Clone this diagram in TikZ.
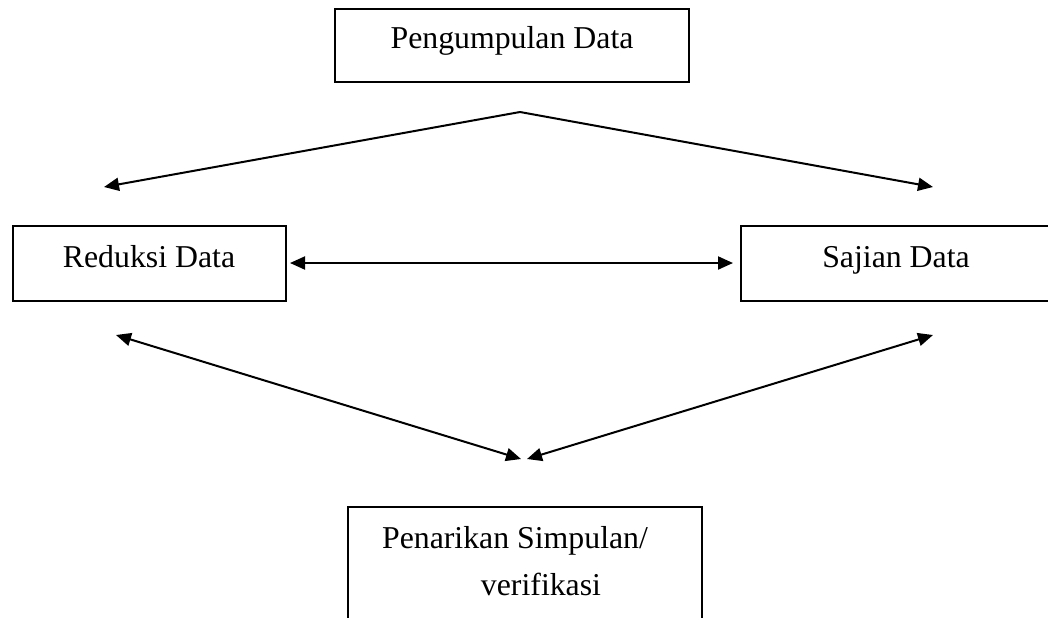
\documentclass[tikz,border=0pt]{standalone}
\usepackage{fontspec}
\setmainfont{Liberation Serif}
\usetikzlibrary{arrows.meta}
\begin{document}
\begin{tikzpicture}[x=0.5pt,y=-0.5pt,
  box/.style={draw=black, line width=0.8pt},
  lbl/.style={anchor=base, inner sep=0pt, font=\fontsize{15.9}{19}\selectfont},
  conn/.style={line width=1pt, -{Triangle[length=7.5pt,width=6.5pt]}},
  dconn/.style={line width=1pt, {Triangle[length=7.5pt,width=6.5pt]}-{Triangle[length=7.5pt,width=6.5pt]}}]
\useasboundingbox (0,0) rectangle (1048,617);
\clip (0,0) rectangle (1048,617);
% boxes
\draw[box] (335,9) rectangle (689,82);
\draw[box] (13,226) rectangle (286,301);
\draw[box] (741,226) rectangle (1052,301);
\draw[box] (348,507) rectangle (702,640);
% labels
\node[lbl] (pd) at (512,48) {Pengumpulan Data};
\node[lbl] (rd) at (149,267) {Reduksi Data};
\node[lbl] (sd) at (896,267) {Sajian Data};
\node[lbl] (ps) at (515,548) {Penarikan Simpulan/};
\node[lbl] (vf) at (541,595) {verifikasi};
% connector ends
\coordinate (apex) at (520,112);
\coordinate (tl) at (104,187);
\coordinate (tr) at (933,187);
\coordinate (ml) at (290,263);
\coordinate (mr) at (733,263);
\coordinate (bl) at (116,335);
\coordinate (br) at (933,335);
\coordinate (cl) at (521,459);
\coordinate (cr) at (527,459);
% connectors
\draw[conn] (apex) -- (tl);
\draw[conn] (apex) -- (tr);
\draw[dconn] (ml) -- (mr);
\draw[dconn] (bl) -- (cl);
\draw[dconn] (br) -- (cr);
\end{tikzpicture}
\end{document}
